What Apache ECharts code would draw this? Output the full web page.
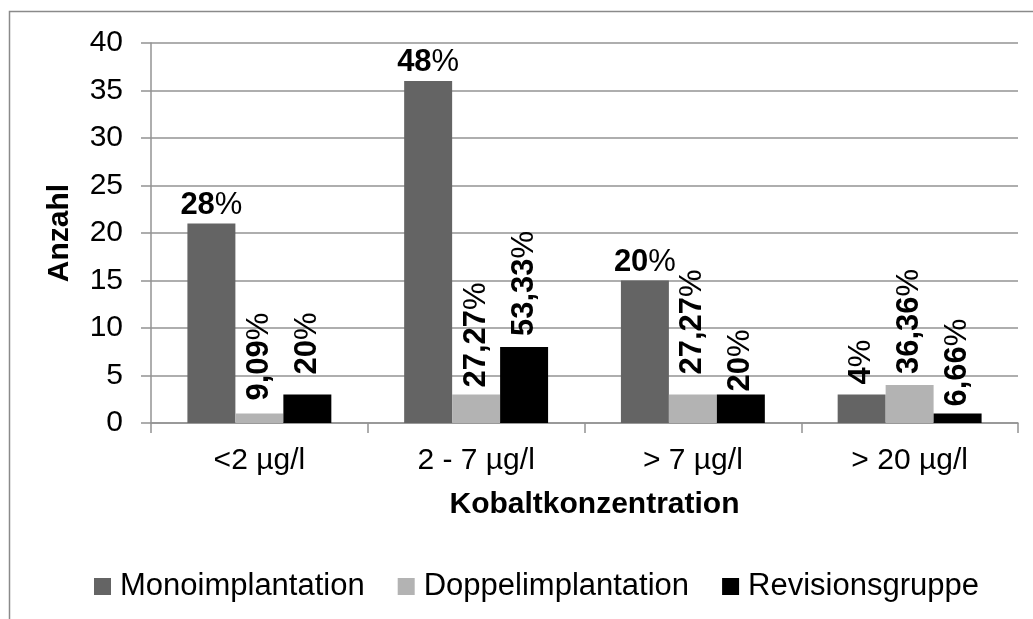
<!DOCTYPE html>
<html>
<head>
<meta charset="utf-8">
<script src="https://cdn.jsdelivr.net/npm/echarts@6/dist/echarts.min.js"></script>
<style>
  html, body { margin: 0; padding: 0; background: #ffffff; }
  #chart { width: 1033px; height: 619px; }
</style>
</head>
<body>
<div id="chart"></div>
<script>
// Cobalt concentration groups and counts per patient group
const categories = ['<2 µg/l', '2 - 7 µg/l', '> 7 µg/l', '> 20 µg/l'];
const seriesNames = ['Monoimplantation', 'Doppelimplantation', 'Revisionsgruppe'];
const monoValues = [21, 36, 15, 3];
const doppelValues = [1, 3, 3, 4];
const revisionValues = [3, 8, 3, 1];
const monoLabels = ['28%', '48%', '20%', '4%'];
const doppelLabels = ['9,09%', '27,27%', '27,27%', '36,36%'];
const revisionLabels = ['20%', '53,33%', '20%', '6,66%'];
const yMin = 0, yMax = 40, yStep = 5;

const FONT = '"Liberation Sans", Arial, Helvetica, sans-serif';
const GRID_COLOR = '#939393';
const colors = ['#646464', '#b3b3b3', '#000000'];

// label offsets above the bar tops (px), per series and group
const labelGaps = [
  [3, 3, 3, 10],
  [13, 7, 20, 11],
  [20, 11, 3, 7]
];
// which labels stay horizontal (the rest are turned upright)
const horizontal = [[0, 1, 2], [], []];

// number part bold, percent sign regular
function pctText(s) {
  const num = s.replace('%', '');
  return '{n|' + num + '}{p|%}';
}
const richPct = {
  n: { fontFamily: FONT, fontSize: 31, fontWeight: 'bold', color: '#000' },
  p: { fontFamily: FONT, fontSize: 31, fontWeight: 'normal', color: '#000' }
};
const uprightLabel = {
  show: true, position: 'top', rich: richPct
};
const verticalLabel = {
  show: true, position: 'top', rotate: 90, align: 'left', verticalAlign: 'middle',
  rich: richPct
};

function buildSeries(k, values, labels) {
  return {
    name: seriesNames[k],
    type: 'bar',
    barGap: '0%',
    barCategoryGap: '33.6%',
    itemStyle: { color: colors[k] },
    emphasis: { disabled: true },
    data: values.map((v, i) => ({
      value: v,
      label: Object.assign({}, horizontal[k].includes(i) ? uprightLabel : verticalLabel, {
        distance: labelGaps[k][i],
        formatter: pctText(labels[i])
      })
    }))
  };
}

const chart = echarts.init(document.getElementById('chart'), null, { renderer: 'canvas' });
chart.setOption({
  animation: false,
  backgroundColor: '#ffffff',
  textStyle: { fontFamily: FONT },
  graphic: [{
    type: 'rect',
    shape: { x: 9.5, y: 11.5, width: 1100, height: 700 },
    style: { fill: 'none', stroke: '#8a8a8a', lineWidth: 1.5 },
    silent: true, z: -1
  }],
  grid: { left: 151, right: 15, top: 43, bottom: 196, containLabel: false },
  legend: {
    data: seriesNames,
    left: 89, top: 566,
    itemWidth: 17, itemHeight: 17, itemGap: 33,
    icon: 'rect',
    selectedMode: false,
    textStyle: { fontFamily: FONT, fontSize: 31, color: '#000', padding: [0, 0, 0, 4] }
  },
  xAxis: {
    type: 'category',
    data: categories,
    name: 'Kobaltkonzentration',
    nameLocation: 'middle',
    nameGap: 67,
    nameTextStyle: { fontFamily: FONT, fontSize: 30, fontWeight: 'bold', color: '#000', padding: [0, 0, 0, 20] },
    axisLine: { lineStyle: { color: GRID_COLOR, width: 1.5 } },
    axisTick: { show: true, length: 10, lineStyle: { color: GRID_COLOR, width: 1.5 } },
    axisLabel: { fontFamily: FONT, fontSize: 30, color: '#000', margin: 23 },
    splitLine: { show: false }
  },
  yAxis: {
    type: 'value',
    min: yMin, max: yMax, interval: yStep,
    name: 'Anzahl',
    nameLocation: 'middle',
    nameGap: 76,
    nameTextStyle: { fontFamily: FONT, fontSize: 30, fontWeight: 'bold', color: '#000' },
    axisLine: { show: true, lineStyle: { color: GRID_COLOR, width: 1.5 } },
    axisTick: { show: true, length: 10, lineStyle: { color: GRID_COLOR, width: 1.5 } },
    axisLabel: { fontFamily: FONT, fontSize: 30, color: '#000', margin: 28 },
    splitLine: { show: true, lineStyle: { color: GRID_COLOR, width: 1.5 } }
  },
  series: [
    buildSeries(0, monoValues, monoLabels),
    buildSeries(1, doppelValues, doppelLabels),
    buildSeries(2, revisionValues, revisionLabels)
  ]
});
</script>
</body>
</html>
